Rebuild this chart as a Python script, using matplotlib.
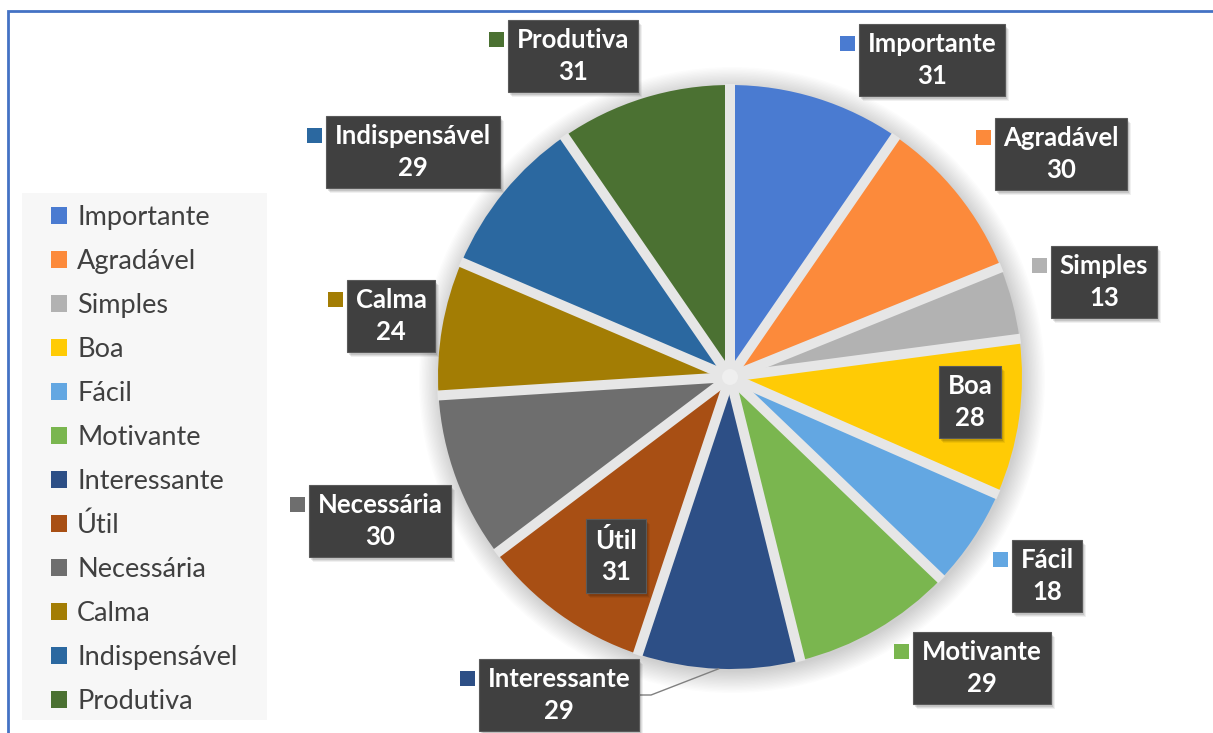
import numpy as np
import matplotlib
matplotlib.use('Agg')
import matplotlib.pyplot as plt
from matplotlib.patches import Rectangle, Circle, Patch

# ---- data ----
categories = ['Importante', 'Agradável', 'Simples', 'Boa', 'Fácil', 'Motivante',
              'Interessante', 'Útil', 'Necessária', 'Calma', 'Indispensável', 'Produtiva']
values = [31, 30, 13, 28, 18, 29, 29, 31, 30, 24, 29, 31]

# ---- style ----
colors = ['#4A7BD1', '#FC8A3B', '#B2B2B2', '#FFCB05', '#63A7E2', '#7AB64F',
          '#2D4F86', '#A84F14', '#6E6E6E', '#A37D04', '#2B68A0', '#4B7132']

# label box centres (layout, pixel coords from top-left)
label_centers = [(932, 60), (1061, 154), (1104, 282), (970, 402), (1047, 576),
                 (982, 668), (559, 695), (616, 556), (380, 521), (391, 316),
                 (413, 152), (573, 56)]
leader_for = ['Interessante']

W, H = 1213, 733
fig = plt.figure(figsize=(W / 100, H / 100), dpi=100)
ax = fig.add_axes([0, 0, 1, 1])

CX, CY, R = 730, H - 377, 292
FONT = 'Lato'

wedges, _ = ax.pie(values, colors=colors, startangle=90, counterclock=False,
                   center=(CX, CY), radius=R, frame=True,
                   wedgeprops=dict(linewidth=0, edgecolor='none', zorder=2))
ax.set_xlim(0, W)
ax.set_ylim(0, H)
ax.set_aspect('auto')
ax.axis('off')

# soft shadow around the pie
for i in range(16):
    ax.add_patch(Circle((CX + 2, CY - 3), R + 1.4 * i, facecolor='k',
                        edgecolor='none', alpha=0.011, zorder=1))

# separators between slices
for w in wedges:
    a = np.deg2rad(w.theta1)
    ax.plot([CX, CX + (R + 1) * np.cos(a)], [CY, CY + (R + 1) * np.sin(a)],
            color='#e6e6e6', lw=7.2, solid_capstyle='butt', zorder=3)
ax.add_patch(Circle((CX, CY), 8, facecolor='#efefef', edgecolor='none', zorder=4))

# legend background + legend
ax.add_patch(Rectangle((22, H - 720), 245, 527, facecolor='#f7f7f7',
                       edgecolor='none', zorder=0))
handles = [Patch(facecolor=c, edgecolor='none') for c in colors]
ax.legend(handles, categories, loc='upper left',
          bbox_to_anchor=(51, H - 205), bbox_transform=ax.transData,
          frameon=False, borderpad=0, borderaxespad=0,
          handlelength=0.6, handleheight=0.6, handletextpad=0.36,
          labelspacing=0.70, prop=dict(family=FONT, size=19.5),
          labelcolor='#404040')

# data labels
texts = []
for cat, val, (lx, ly) in zip(categories, values, label_centers):
    t = ax.text(lx, H - ly, f'{cat}\n{val}', ha='center', va='center', ma='center',
                color='white', fontweight='bold', family=FONT, fontsize=18.5,
                linespacing=1.36, zorder=7,
                bbox=dict(boxstyle='square,pad=0.34', facecolor='#404040',
                          edgecolor='#5a5a5a', linewidth=0.8))
    texts.append(t)

fig.canvas.draw()
renderer = fig.canvas.get_renderer()
for i, (t, cat, col) in enumerate(zip(texts, categories, colors)):
    bb = t.get_bbox_patch().get_window_extent(renderer)
    # drop shadow
    for k, al in enumerate([0.10, 0.08, 0.06]):
        ax.add_patch(Rectangle((bb.x0 + 2 + k, bb.y0 - 3 - k), bb.width, bb.height,
                               facecolor='k', edgecolor='none', alpha=al, zorder=6))
    # colour key square
    ax.add_patch(Rectangle((bb.x0 - 4 - 15, bb.y1 - 20 - 7.5), 15, 15,
                           facecolor=col, edgecolor='none', zorder=7))
    if cat in leader_for:
        w = wedges[i]
        a = np.deg2rad((w.theta1 + w.theta2) / 2)
        px, py = CX + R * np.cos(a), CY + R * np.sin(a)
        yc = (bb.y0 + bb.y1) / 2
        ax.plot([bb.x1, bb.x1 + 12, px], [yc, yc, py], color='#808080',
                lw=1.0, zorder=5)

# blue frame lines (top and left)
ax.plot([7.5, 7.5, W], [0, H - 11, H - 11], color='#4472C4', lw=2.0,
        solid_joinstyle='miter', zorder=8)

fig.savefig('out.png', dpi=100)
